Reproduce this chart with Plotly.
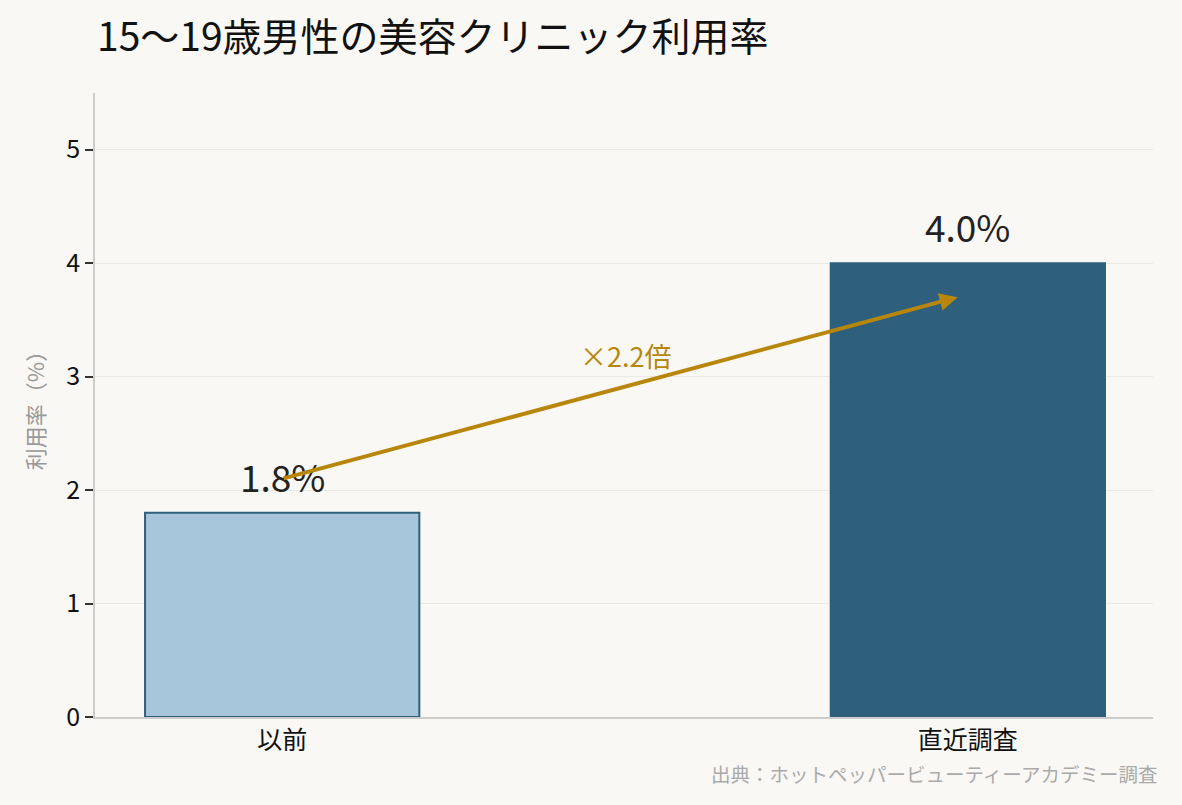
import plotly.graph_objects as go

# data
categories = ["以前", "直近調査"]
rates = [1.8, 4.0]
value_labels = ["1.8%", "4.0%"]
ratio_label = "×2.2倍"
arrow_from = 2.1   # arrow tail height on 以前
arrow_to = 3.7     # arrow head height on 直近調査
yticks = [0, 1, 2, 3, 4, 5]

FONT = "Noto Sans CJK JP"
BG = "#f9f8f4"
GOLD = "#b8860b"

fig = go.Figure()

fig.add_trace(
    go.Bar(
        x=categories,
        y=rates,
        width=0.4,
        marker=dict(
            color=["#a6c4da", "#2e5f7c"],
            line=dict(color="#2e5f7c", width=2),
        ),
        hoverinfo="skip",
    )
)

# value labels above bars
for cat, val, lab in zip(categories, rates, value_labels):
    fig.add_annotation(
        x=cat, y=val + 0.07, text=lab, showarrow=False,
        yanchor="bottom", font=dict(family=FONT, size=37, color="#222222"),
    )

# growth arrow
fig.add_annotation(
    x=0.985, y=arrow_to, ax=0, ay=arrow_from,
    xref="x", yref="y", axref="x", ayref="y",
    text="", showarrow=True, arrowhead=2, arrowsize=0.9,
    arrowwidth=4, arrowcolor=GOLD,
)
fig.add_annotation(
    x=0.5, y=3.19, text=ratio_label, showarrow=False,
    font=dict(family=FONT, size=27, color=GOLD),
)

# source note
fig.add_annotation(
    xref="paper", yref="paper", x=1.0066, y=-0.09,
    xanchor="right", yanchor="middle", showarrow=False,
    text="出典：ホットペッパービューティーアカデミー調査",
    font=dict(family=FONT, size=19.5, color="#aaaaaa"),
)

fig.update_layout(
    width=1182, height=805,
    paper_bgcolor=BG, plot_bgcolor=BG,
    margin=dict(l=95, r=29, t=93, b=88),
    showlegend=False,
    font=dict(family=FONT, color="#222222"),
    title=dict(
        text="15〜19歳男性の美容クリニック利用率",
        x=97 / 1182, xanchor="left", y=0.953, yanchor="middle",
        font=dict(family=FONT, size=39, color="#111111"),
    ),
    xaxis=dict(
        range=[-0.273, 1.27],
        showgrid=False, zeroline=False,
        showline=True, linecolor="#cccccc", linewidth=1.5,
        ticks="", tickfont=dict(family=FONT, size=25, color="#111111"),
    ),
    yaxis=dict(
        range=[0, 5.5],
        tickvals=yticks,
        showgrid=True, gridcolor="#ebe9e4", gridwidth=1,
        zeroline=False,
        showline=True, linecolor="#cccccc", linewidth=1.5,
        ticks="outside", ticklen=8, tickcolor="#333333", tickwidth=1.5,
        tickfont=dict(family=FONT, size=25, color="#111111"),
        title=dict(text="利用率（%）", standoff=16,
                   font=dict(family=FONT, size=22, color="#999999")),
    ),
)

fig.write_html(
    "out.html",
    config={"displayModeBar": False},
    post_script="document.body.style.margin='0';"
                "document.body.style.overflow='hidden';"
                "document.body.style.background='" + BG + "';",
)
